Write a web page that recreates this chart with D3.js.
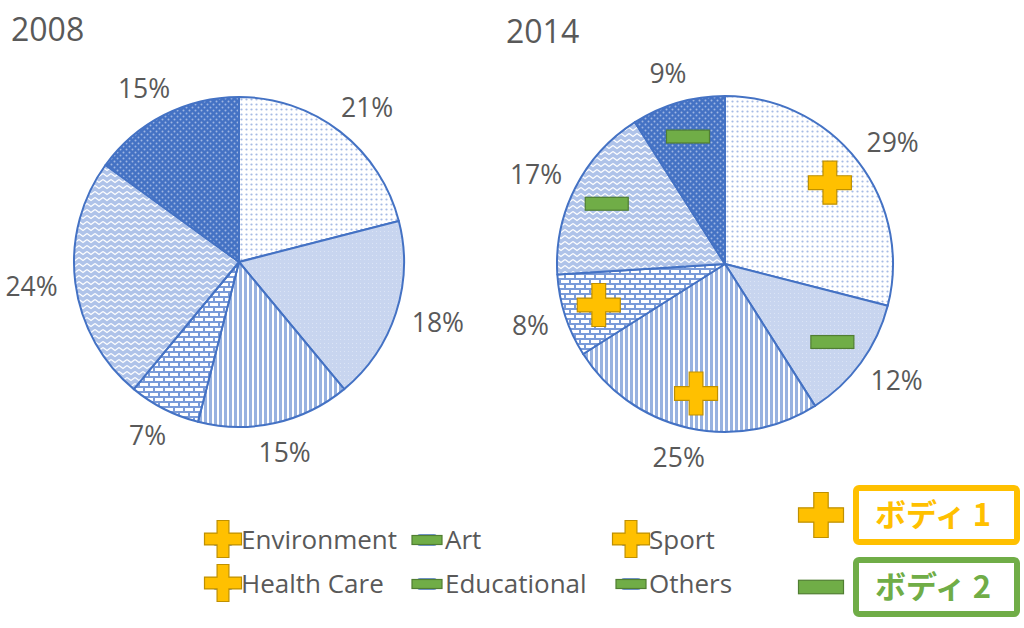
<!DOCTYPE html>
<html><head><meta charset="utf-8">
<script src="https://cdn.jsdelivr.net/npm/d3@7"></script>
<style>html,body{margin:0;padding:0;background:#fff;}svg{display:block;}</style>
</head><body>
<svg id="chart" width="1024" height="628"></svg>
<script>
const categories = ["Environment","Art","Sport","Health Care","Educational","Others"];
const years = ["2008","2014"];
const values2008 = [21,18,15,7,24,15];
const values2014 = [29,12,25,8,17,9];
const symbols = ["+","-","+","+","-","-"];
const keyLabels = ["ボディ 1","ボディ 2"];
const keySymbols = ["+","-"];

const svg = d3.select("#chart");
const defs = svg.append("defs");
const BLUE = "#4472c4";
const TXT = "#595959";
const FONT = "'Open Sans','Noto Sans',sans-serif";

function pat(id,w,h){return defs.append("pattern").attr("id",id).attr("patternUnits","userSpaceOnUse").attr("width",w).attr("height",h);}
let p;
p = pat("p0",5,5); p.append("rect").attr("width",5).attr("height",5).attr("fill","#fff");
p.append("circle").attr("cx",2.5).attr("cy",2.5).attr("r",1.1).attr("fill","#a6bbe5");
p = pat("p1",4,4); p.append("rect").attr("width",4).attr("height",4).attr("fill","#c8d5ef");
p.append("rect").attr("x",1).attr("y",1).attr("width",1).attr("height",1).attr("fill","#dbe4f5");
p = pat("p2",5,5); p.append("rect").attr("width",5).attr("height",5).attr("fill","#fff");
p.append("rect").attr("width",3).attr("height",5).attr("fill","#98b2e0");
p = pat("p3",10,10); p.append("rect").attr("width",10).attr("height",10).attr("fill","#7a9bd9");
p.append("rect").attr("x",1).attr("y",1).attr("width",8).attr("height",3).attr("fill","#fff");
p.append("rect").attr("x",6).attr("y",6).attr("width",8).attr("height",3).attr("fill","#fff");
p.append("rect").attr("x",-4).attr("y",6).attr("width",8).attr("height",3).attr("fill","#fff");
p = pat("p4",8,6); p.append("rect").attr("width",8).attr("height",6).attr("fill","#afc3e9");
p.append("path").attr("d","M0,1.5 L4,4.5 L8,1.5").attr("fill","none").attr("stroke","#fff").attr("stroke-width",1.3).attr("stroke-linejoin","miter");
p = pat("p5",6,6); p.append("rect").attr("width",6).attr("height",6).attr("fill",BLUE);
p.append("circle").attr("cx",1.5).attr("cy",1.5).attr("r",1).attr("fill","#9fb6e3");
p.append("circle").attr("cx",4.5).attr("cy",4.5).attr("r",1).attr("fill","#9fb6e3");

const fills = categories.map((c,i)=>`url(#p${i})`);

const pies = [
  {year:years[0], values:values2008, cx:239, cy:262, r:165, tx:11, ty:41, marks:false},
  {year:years[1], values:values2014, cx:725, cy:264, r:168, tx:506, ty:43, marks:true}
];

function drawSymbol(g, s, x, y, size){
  if(s==="+"){
    const a = size/2, t = size*0.16;
    g.append("path").attr("d",`M${x-t},${y-a}H${x+t}V${y-t}H${x+a}V${y+t}H${x+t}V${y+a}H${x-t}V${y+t}H${x-a}V${y-t}H${x-t}Z`)
      .attr("fill","#ffc000").attr("stroke","#bf9000").attr("stroke-width",1.2);
  } else {
    const a = size/2, t = size*0.15;
    g.append("rect").attr("x",x-a).attr("y",y-t).attr("width",size).attr("height",2*t)
      .attr("fill","#70ad47").attr("stroke","#507e32").attr("stroke-width",1.2);
  }
}

const pie = d3.pie().sort(null).value(d=>d);
pies.forEach(P=>{
  const g = svg.append("g").attr("transform",`translate(${P.cx},${P.cy})`);
  const arcs = pie(P.values);
  const arc = d3.arc().innerRadius(0).outerRadius(P.r);
  g.selectAll("path.slice").data(arcs).join("path").attr("class","slice")
    .attr("d",arc).attr("fill",(d,i)=>fills[i]).attr("stroke",BLUE).attr("stroke-width",2).attr("stroke-linejoin","round");
  // outside-end labels: label box edge sits just outside the circle
  const gap = 18, halfH = 12;
  g.selectAll("text.lab").data(arcs).join("text").attr("class","lab")
    .attr("text-anchor","middle").attr("dy","0.36em")
    .style("font-family",FONT).style("font-size","26.5px").attr("fill",TXT)
    .text(d=>d.data+"%")
    .attr("transform",function(d){
      const a = (d.startAngle+d.endAngle)/2, s = Math.sin(a), c = -Math.cos(a);
      const halfW = this.getComputedTextLength()/2;
      const R = P.r + gap;
      return `translate(${s*(R+halfW)},${c*(R+halfH)})`;
    });
  if(P.marks){
    const mArc = d3.arc().innerRadius(P.r*0.79).outerRadius(P.r*0.79);
    arcs.forEach((d,i)=>{const c=mArc.centroid(d); drawSymbol(g,symbols[i],c[0],c[1],43);});
  }
  svg.append("text").attr("x",P.tx).attr("y",P.ty).style("font-family",FONT).style("font-size","32px").attr("fill",TXT).text(P.year);
});

// legend
const colX = [223, 427, 631];
const rowY = [540, 584];
categories.forEach((c,i)=>{
  const col = i%3, row = Math.floor(i/3);
  const x = colX[col], y = rowY[row];
  const lg = svg.append("g");
  lg.append("rect").attr("x",x-10).attr("y",y-5).attr("width",20).attr("height",10).attr("rx",3)
    .attr("fill",fills[i]).attr("stroke",BLUE).attr("stroke-width",1.5);
  if(symbols[i]==="+") drawSymbol(lg,"+",x,y-1,37); else drawSymbol(lg,"-",x,y,30);
  lg.append("text").attr("x",x+18).attr("y",y).attr("dy","0.36em")
    .style("font-family",FONT).style("font-size","26px").attr("fill",TXT).text(c);
});

// key boxes
const keyColors = ["#ffc000","#70ad47"];
keyLabels.forEach((k,i)=>{
  const y = 515 + i*72;
  drawSymbol(svg,keySymbols[i],821,y,45);
  svg.append("rect").attr("x",856).attr("y",y-27).attr("width",161).attr("height",54).attr("rx",3)
    .attr("fill","#fff").attr("stroke",keyColors[i]).attr("stroke-width",6);
  svg.append("text").attr("x",933).attr("y",y).attr("dy","0.36em").attr("text-anchor","middle")
    .style("font-family","'Noto Sans CJK JP',sans-serif").style("font-weight","bold").style("font-size","31px")
    .attr("fill",keyColors[i]).text(k);
});
</script>
</body></html>
